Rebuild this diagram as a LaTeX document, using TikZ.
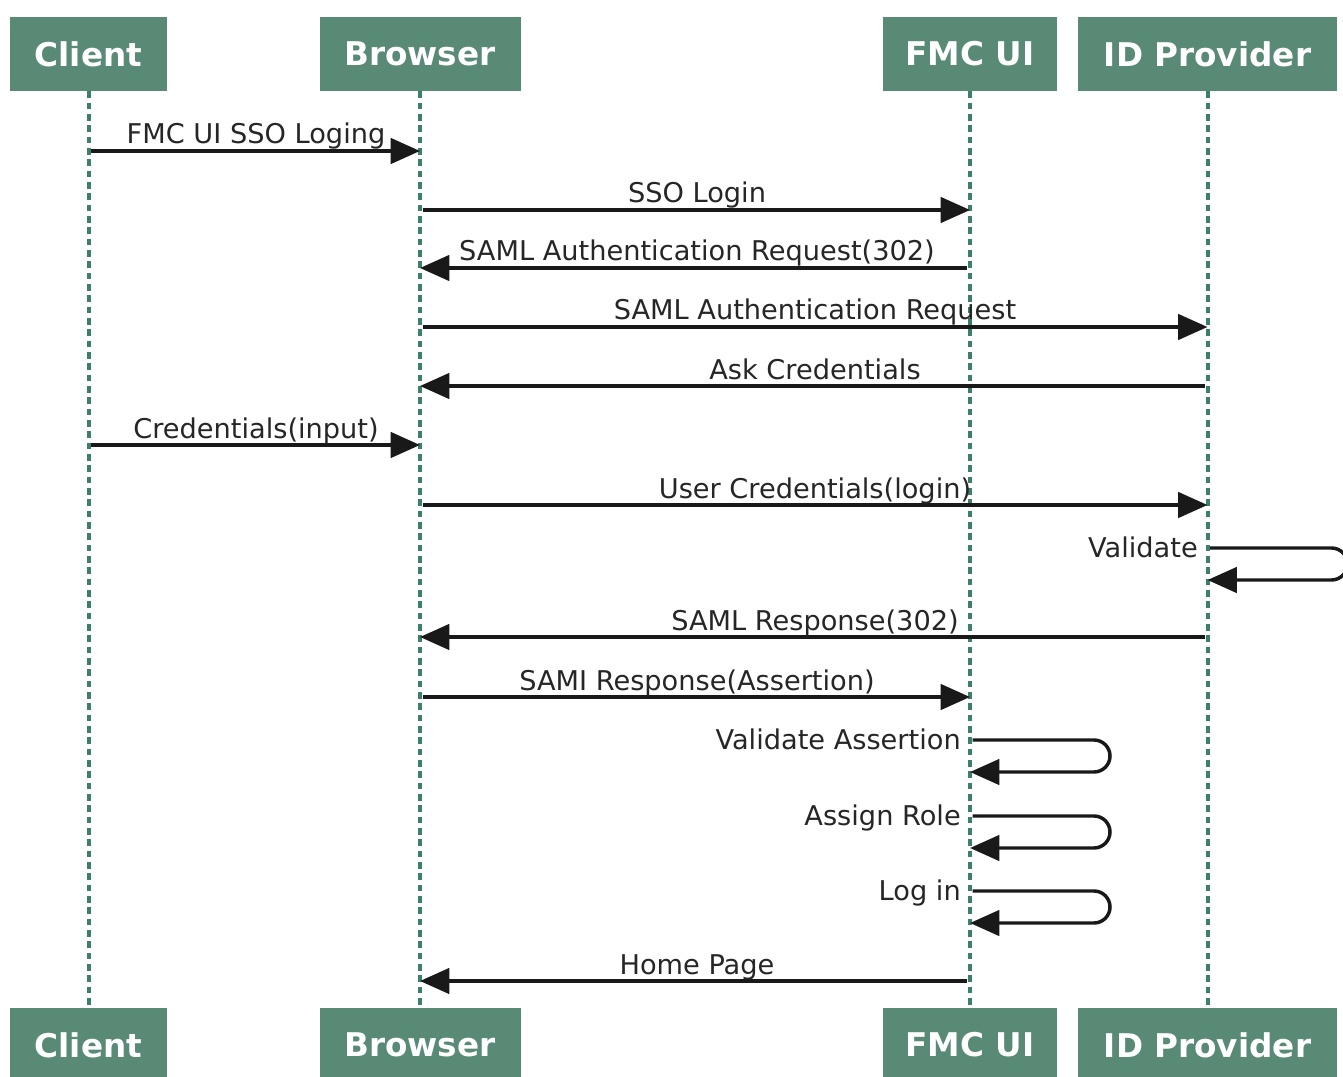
\documentclass[tikz,border=0pt]{standalone}
\usepackage{fontspec}
\setmainfont{DejaVu Sans}
\usetikzlibrary{arrows.meta}
\definecolor{boxgreen}{RGB}{88,138,118}
\definecolor{lifegreen}{RGB}{60,128,108}
\begin{document}
\begin{tikzpicture}[x=0.75pt,y=-0.75pt,
  hdr/.style={fill=boxgreen, text=white, font=\fontsize{24.5}{28}\selectfont\bfseries, minimum height=55.5pt, inner sep=0pt},
  life/.style={lifegreen, line width=3pt, dash pattern=on 5pt off 3.5pt},
  msg/.style={line width=2.6pt, black!90, shorten <=2pt, -{Triangle[length=22pt,width=19pt]}},
  lbl/.style={font=\fontsize{20.4}{24}\selectfont, text=black!85, inner sep=0pt, anchor=base},
  selflbl/.style={lbl, anchor=base east},
  loopmsg/.style={msg, rounded corners=12pt}]
\useasboundingbox (0,0) rectangle (1343,1077);
\fill[white] (0,0) rectangle (1343,1077);
\clip (0,0) rectangle (1343,1077);
% headers
\node[hdr, minimum width=117.75pt] (Ct) at (88.5,54) {Client};
\node[hdr, minimum width=150.75pt] (Bt) at (420,54) {Browser};
\node[hdr, minimum width=130.5pt] (Ft) at (970,54) {FMC UI};
\node[hdr, minimum width=194.25pt] (It) at (1207.5,54) {ID Provider};
\node[hdr, minimum width=117.75pt] (Cb) at (88.5,1045) {Client};
\node[hdr, minimum width=150.75pt] (Bb) at (420,1045) {Browser};
\node[hdr, minimum width=130.5pt] (Fb) at (970,1045) {FMC UI};
\node[hdr, minimum width=194.25pt] (Ib) at (1207.5,1045) {ID Provider};
% lifelines
\draw[life] (Ct.south) -- (Cb.north);
\draw[life] (Bt.south) -- (Bb.north);
\draw[life] (Ft.south) -- (Fb.north);
\draw[life] (It.south) -- (Ib.north);
% rows
\coordinate (r1) at (0,151);
\coordinate (r2) at (0,210);
\coordinate (r3) at (0,268);
\coordinate (r4) at (0,327);
\coordinate (r5) at (0,386);
\coordinate (r6) at (0,445);
\coordinate (r7) at (0,505);
\coordinate (v1) at (0,548);
\coordinate (r9) at (0,637);
\coordinate (r10) at (0,697);
\coordinate (v2) at (0,740);
\coordinate (v3) at (0,816);
\coordinate (v4) at (0,891);
\coordinate (r14) at (0,981);
% messages
\draw[msg] (Ct |- r1) -- (Bt |- r1);
\node[lbl] (l1) at (256,144) {FMC UI SSO Loging};
\draw[msg] (Bt |- r2) -- (Ft |- r2);
\node[lbl] (l2) at (697,203) {SSO Login};
\draw[msg] (Ft |- r3) -- (Bt |- r3);
\node[lbl] (l3) at (697,261) {SAML Authentication Request(302)};
\draw[msg] (Bt |- r4) -- (It |- r4);
\node[lbl] (l4) at (815,320) {SAML Authentication Request};
\draw[msg] (It |- r5) -- (Bt |- r5);
\node[lbl] (l5) at (815,379) {Ask Credentials};
\draw[msg] (Ct |- r6) -- (Bt |- r6);
\node[lbl] (l6) at (256,438) {Credentials(input)};
\draw[msg] (Bt |- r7) -- (It |- r7);
\node[lbl] (l7) at (815,498) {User Credentials(login)};
\draw[loopmsg] (It |- v1) -- ++(140,0) -- ++(0,32) -- (It |- 0,580);
\node[selflbl] (l8) at (1198,557) {Validate};
\draw[msg] (It |- r9) -- (Bt |- r9);
\node[lbl] (l9) at (815,630) {SAML Response(302)};
\draw[msg] (Bt |- r10) -- (Ft |- r10);
\node[lbl] (l10) at (697,690) {SAMI Response(Assertion)};
\draw[loopmsg] (Ft |- v2) -- ++(140,0) -- ++(0,32) -- (Ft |- 0,772);
\node[selflbl] (l11) at (961,749) {Validate Assertion};
\draw[loopmsg] (Ft |- v3) -- ++(140,0) -- ++(0,32) -- (Ft |- 0,848);
\node[selflbl] (l12) at (961,825) {Assign Role};
\draw[loopmsg] (Ft |- v4) -- ++(140,0) -- ++(0,32) -- (Ft |- 0,923);
\node[selflbl] (l13) at (961,900) {Log in};
\draw[msg] (Ft |- r14) -- (Bt |- r14);
\node[lbl] (l14) at (697,974) {Home Page};
\end{tikzpicture}
\end{document}
